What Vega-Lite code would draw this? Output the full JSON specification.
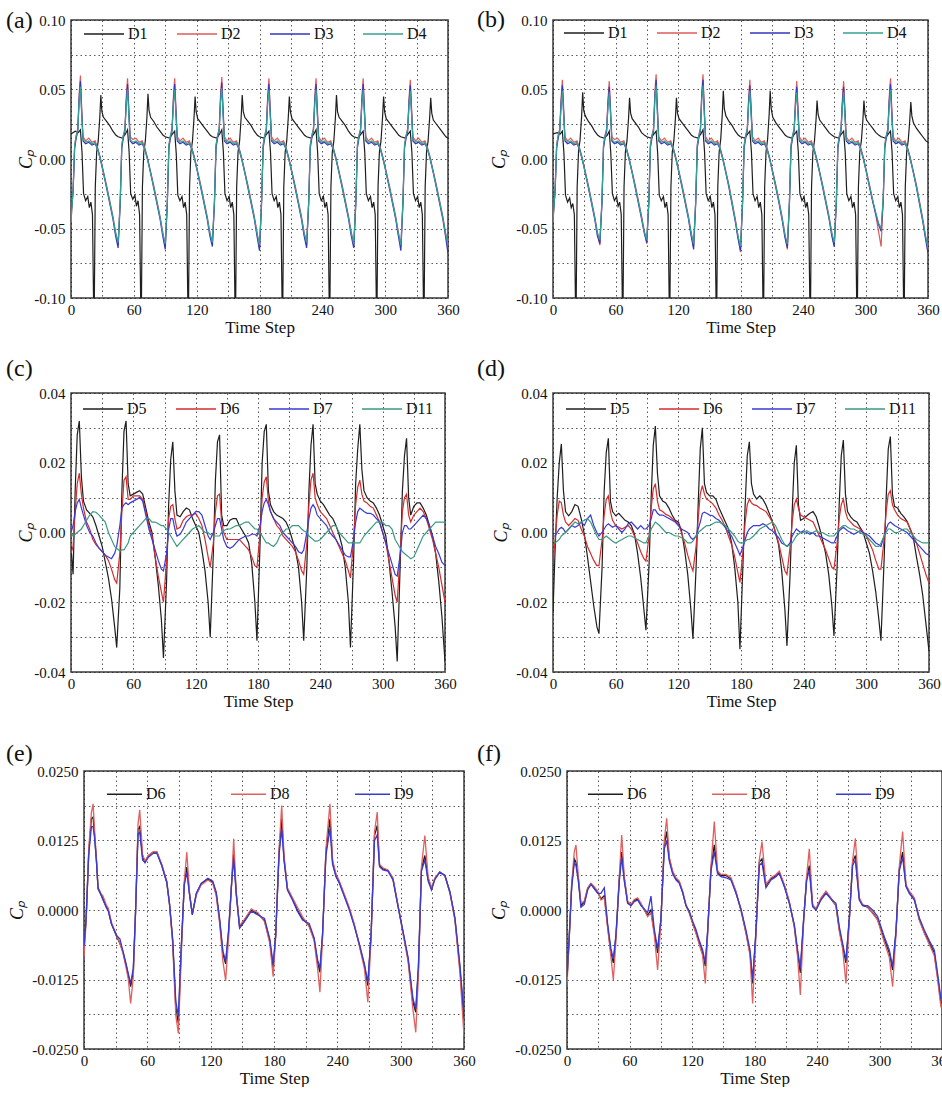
{
"$schema": "https://vega.github.io/schema/vega-lite/v6.json",
"padding": {"left": 4, "top": 7, "right": 0, "bottom": 0},
"datasets": {
"a": [
{"x":0,"D1":0.018},{"x":4,"D1":0.02},{"x":7,"D1":0.019},{"x":9,"D1":0.021},{"x":10.5,"D1":0.005},{"x":12,"D1":-0.025},{"x":14,"D1":-0.03},{"x":16,"D1":-0.027},{"x":17.5,"D1":-0.035},{"x":19,"D1":-0.031},{"x":20.5,"D1":-0.04},{"x":21.5,"D1":-0.1},{"x":22.3,"D1":-0.1},{"x":23.2,"D1":-0.02},{"x":24.5,"D1":0.005},{"x":26,"D1":0.013},{"x":27.5,"D1":0.03},{"x":28.5,"D1":0.046},{"x":29.5,"D1":0.034},{"x":31,"D1":0.03},{"x":34,"D1":0.027},{"x":37,"D1":0.024},{"x":40,"D1":0.02},{"x":43,"D1":0.017},
{"x":45,"D1":0.016},{"x":49,"D1":0.015},{"x":52,"D1":0.018},{"x":54,"D1":0.021},{"x":55.5,"D1":0.005},{"x":57,"D1":-0.025},{"x":59,"D1":-0.029},{"x":61,"D1":-0.026},{"x":62.5,"D1":-0.034},{"x":64,"D1":-0.03},{"x":65.5,"D1":-0.04},{"x":66.5,"D1":-0.1},{"x":67.3,"D1":-0.1},{"x":68.2,"D1":-0.02},{"x":69.5,"D1":0.005},{"x":71,"D1":0.013},{"x":72.5,"D1":0.03},{"x":73.5,"D1":0.047},{"x":74.5,"D1":0.035},{"x":76,"D1":0.03},{"x":79,"D1":0.027},{"x":82,"D1":0.023},{"x":85,"D1":0.02},{"x":88,"D1":0.017},
{"x":90,"D1":0.016},{"x":94,"D1":0.015},{"x":97,"D1":0.018},{"x":99,"D1":0.02},{"x":100.5,"D1":0.004},{"x":102,"D1":-0.026},{"x":104,"D1":-0.03},{"x":106,"D1":-0.027},{"x":107.5,"D1":-0.035},{"x":109,"D1":-0.031},{"x":110.5,"D1":-0.04},{"x":111.5,"D1":-0.1},{"x":112.3,"D1":-0.1},{"x":113.2,"D1":-0.02},{"x":114.5,"D1":0.005},{"x":116,"D1":0.013},{"x":117.5,"D1":0.03},{"x":118.5,"D1":0.045},{"x":119.5,"D1":0.034},{"x":121,"D1":0.029},{"x":124,"D1":0.026},{"x":127,"D1":0.023},{"x":130,"D1":0.02},{"x":133,"D1":0.017},
{"x":135,"D1":0.016},{"x":139,"D1":0.015},{"x":142,"D1":0.018},{"x":144,"D1":0.021},{"x":145.5,"D1":0.005},{"x":147,"D1":-0.025},{"x":149,"D1":-0.03},{"x":151,"D1":-0.027},{"x":152.5,"D1":-0.035},{"x":154,"D1":-0.031},{"x":155.5,"D1":-0.04},{"x":156.5,"D1":-0.1},{"x":157.3,"D1":-0.1},{"x":158.2,"D1":-0.02},{"x":159.5,"D1":0.005},{"x":161,"D1":0.013},{"x":162.5,"D1":0.03},{"x":163.5,"D1":0.046},{"x":164.5,"D1":0.034},{"x":166,"D1":0.03},{"x":169,"D1":0.027},{"x":172,"D1":0.024},{"x":175,"D1":0.02},{"x":178,"D1":0.017},
{"x":180,"D1":0.016},{"x":184,"D1":0.015},{"x":187,"D1":0.018},{"x":189,"D1":0.02},{"x":190.5,"D1":0.005},{"x":192,"D1":-0.025},{"x":194,"D1":-0.03},{"x":196,"D1":-0.027},{"x":197.5,"D1":-0.035},{"x":199,"D1":-0.031},{"x":200.5,"D1":-0.04},{"x":201.5,"D1":-0.1},{"x":202.3,"D1":-0.1},{"x":203.2,"D1":-0.02},{"x":204.5,"D1":0.005},{"x":206,"D1":0.013},{"x":207.5,"D1":0.03},{"x":208.5,"D1":0.045},{"x":209.5,"D1":0.034},{"x":211,"D1":0.029},{"x":214,"D1":0.026},{"x":217,"D1":0.023},{"x":220,"D1":0.02},{"x":223,"D1":0.017},
{"x":225,"D1":0.016},{"x":229,"D1":0.015},{"x":232,"D1":0.018},{"x":234,"D1":0.021},{"x":235.5,"D1":0.005},{"x":237,"D1":-0.025},{"x":239,"D1":-0.03},{"x":241,"D1":-0.027},{"x":242.5,"D1":-0.035},{"x":244,"D1":-0.031},{"x":245.5,"D1":-0.04},{"x":246.5,"D1":-0.1},{"x":247.3,"D1":-0.1},{"x":248.2,"D1":-0.02},{"x":249.5,"D1":0.005},{"x":251,"D1":0.013},{"x":252.5,"D1":0.03},{"x":253.5,"D1":0.046},{"x":254.5,"D1":0.034},{"x":256,"D1":0.03},{"x":259,"D1":0.027},{"x":262,"D1":0.024},{"x":265,"D1":0.02},{"x":268,"D1":0.017},
{"x":270,"D1":0.016},{"x":274,"D1":0.015},{"x":277,"D1":0.018},{"x":279,"D1":0.02},{"x":280.5,"D1":0.005},{"x":282,"D1":-0.025},{"x":284,"D1":-0.03},{"x":286,"D1":-0.027},{"x":287.5,"D1":-0.035},{"x":289,"D1":-0.031},{"x":290.5,"D1":-0.04},{"x":291.5,"D1":-0.1},{"x":292.3,"D1":-0.1},{"x":293.2,"D1":-0.02},{"x":294.5,"D1":0.005},{"x":296,"D1":0.013},{"x":297.5,"D1":0.03},{"x":298.5,"D1":0.045},{"x":299.5,"D1":0.034},{"x":301,"D1":0.029},{"x":304,"D1":0.026},{"x":307,"D1":0.023},{"x":310,"D1":0.02},{"x":313,"D1":0.017},
{"x":315,"D1":0.016},{"x":319,"D1":0.015},{"x":322,"D1":0.018},{"x":324,"D1":0.02},{"x":325.5,"D1":0.005},{"x":327,"D1":-0.025},{"x":329,"D1":-0.03},{"x":331,"D1":-0.027},{"x":332.5,"D1":-0.035},{"x":334,"D1":-0.031},{"x":335.5,"D1":-0.04},{"x":336.5,"D1":-0.1},{"x":337.3,"D1":-0.1},{"x":338.2,"D1":-0.02},{"x":339.5,"D1":0.005},{"x":341,"D1":0.013},{"x":342.5,"D1":0.03},{"x":343.5,"D1":0.044},{"x":344.5,"D1":0.033},{"x":346,"D1":0.028},{"x":349,"D1":0.025},{"x":352,"D1":0.022},{"x":355,"D1":0.019},{"x":358,"D1":0.016},{"x":360,"D1":0.015},
{"x":0,"D2":-0.045,"D3":-0.04,"D4":-0.045},{"x":2,"D2":-0.022,"D3":-0.024,"D4":-0.022},{"x":3.5,"D2":0.01,"D3":0.008,"D4":0.01},{"x":5,"D2":0.017,"D3":0.015,"D4":0.017},{"x":6.5,"D2":0.022,"D3":0.02,"D4":0.021},{"x":7.8,"D2":0.047,"D3":0.044,"D4":0.042},{"x":9,"D2":0.06,"D3":0.056,"D4":0.052},{"x":10.2,"D2":0.037,"D3":0.034,"D4":0.032},{"x":11.5,"D2":0.016,"D3":0.013,"D4":0.014},{"x":14,"D2":0.013,"D3":0.011,"D4":0.012},{"x":17,"D2":0.015,"D3":0.012,"D4":0.013},{"x":20,"D2":0.012,"D3":0.01,"D4":0.011},{"x":23,"D2":0.013,"D3":0.011,"D4":0.012},{"x":25.5,"D2":0.008,"D3":0.007,"D4":0.007},{"x":28,"D2":0.001,"D3":0,"D4":0},{"x":31,"D2":-0.009,"D3":-0.01,"D4":-0.01},{"x":34,"D2":-0.019,"D3":-0.021,"D4":-0.02},{"x":37,"D2":-0.03,"D3":-0.032,"D4":-0.031},{"x":40,"D2":-0.041,"D3":-0.043,"D4":-0.042},{"x":42.5,"D2":-0.052,"D3":-0.055,"D4":-0.053},
{"x":45,"D2":-0.062,"D3":-0.064,"D4":-0.06},{"x":47,"D2":-0.03,"D3":-0.032,"D4":-0.03},{"x":48.5,"D2":0.01,"D3":0.008,"D4":0.01},{"x":50,"D2":0.017,"D3":0.015,"D4":0.017},{"x":51.5,"D2":0.022,"D3":0.02,"D4":0.021},{"x":52.8,"D2":0.045,"D3":0.042,"D4":0.04},{"x":54,"D2":0.058,"D3":0.054,"D4":0.05},{"x":55.2,"D2":0.037,"D3":0.034,"D4":0.032},{"x":56.5,"D2":0.016,"D3":0.013,"D4":0.014},{"x":59,"D2":0.014,"D3":0.011,"D4":0.012},{"x":62,"D2":0.015,"D3":0.012,"D4":0.013},{"x":65,"D2":0.012,"D3":0.01,"D4":0.011},{"x":68,"D2":0.013,"D3":0.011,"D4":0.012},{"x":70.5,"D2":0.008,"D3":0.007,"D4":0.007},{"x":73,"D2":0.001,"D3":0,"D4":0},{"x":76,"D2":-0.009,"D3":-0.01,"D4":-0.01},{"x":79,"D2":-0.019,"D3":-0.021,"D4":-0.02},{"x":82,"D2":-0.03,"D3":-0.032,"D4":-0.031},{"x":85,"D2":-0.041,"D3":-0.043,"D4":-0.042},{"x":87.5,"D2":-0.052,"D3":-0.055,"D4":-0.053},
{"x":90,"D2":-0.063,"D3":-0.065,"D4":-0.061},{"x":92,"D2":-0.03,"D3":-0.032,"D4":-0.03},{"x":93.5,"D2":0.01,"D3":0.008,"D4":0.01},{"x":95,"D2":0.017,"D3":0.015,"D4":0.017},{"x":96.5,"D2":0.022,"D3":0.02,"D4":0.021},{"x":97.8,"D2":0.045,"D3":0.042,"D4":0.04},{"x":99,"D2":0.058,"D3":0.054,"D4":0.05},{"x":100.2,"D2":0.037,"D3":0.034,"D4":0.032},{"x":101.5,"D2":0.016,"D3":0.013,"D4":0.014},{"x":104,"D2":0.013,"D3":0.011,"D4":0.012},{"x":107,"D2":0.015,"D3":0.012,"D4":0.013},{"x":110,"D2":0.012,"D3":0.01,"D4":0.011},{"x":113,"D2":0.013,"D3":0.011,"D4":0.012},{"x":115.5,"D2":0.008,"D3":0.007,"D4":0.007},{"x":118,"D2":0.001,"D3":0,"D4":0},{"x":121,"D2":-0.009,"D3":-0.01,"D4":-0.01},{"x":124,"D2":-0.019,"D3":-0.021,"D4":-0.02},{"x":127,"D2":-0.03,"D3":-0.032,"D4":-0.031},{"x":130,"D2":-0.041,"D3":-0.043,"D4":-0.042},{"x":132.5,"D2":-0.052,"D3":-0.055,"D4":-0.053},
{"x":135,"D2":-0.061,"D3":-0.063,"D4":-0.06},{"x":137,"D2":-0.03,"D3":-0.032,"D4":-0.03},{"x":138.5,"D2":0.01,"D3":0.008,"D4":0.01},{"x":140,"D2":0.017,"D3":0.015,"D4":0.017},{"x":141.5,"D2":0.022,"D3":0.02,"D4":0.021},{"x":142.8,"D2":0.046,"D3":0.043,"D4":0.041},{"x":144,"D2":0.059,"D3":0.055,"D4":0.051},{"x":145.2,"D2":0.037,"D3":0.034,"D4":0.032},{"x":146.5,"D2":0.016,"D3":0.013,"D4":0.014},{"x":149,"D2":0.013,"D3":0.011,"D4":0.012},{"x":152,"D2":0.015,"D3":0.012,"D4":0.013},{"x":155,"D2":0.012,"D3":0.01,"D4":0.011},{"x":158,"D2":0.013,"D3":0.011,"D4":0.012},{"x":160.5,"D2":0.008,"D3":0.007,"D4":0.007},{"x":163,"D2":0.001,"D3":0,"D4":0},{"x":166,"D2":-0.009,"D3":-0.01,"D4":-0.01},{"x":169,"D2":-0.019,"D3":-0.021,"D4":-0.02},{"x":172,"D2":-0.03,"D3":-0.032,"D4":-0.031},{"x":175,"D2":-0.041,"D3":-0.043,"D4":-0.042},{"x":177.5,"D2":-0.052,"D3":-0.055,"D4":-0.053},
{"x":180,"D2":-0.064,"D3":-0.066,"D4":-0.062},{"x":182,"D2":-0.03,"D3":-0.032,"D4":-0.03},{"x":183.5,"D2":0.01,"D3":0.008,"D4":0.01},{"x":185,"D2":0.017,"D3":0.015,"D4":0.017},{"x":186.5,"D2":0.022,"D3":0.02,"D4":0.021},{"x":187.8,"D2":0.045,"D3":0.042,"D4":0.04},{"x":189,"D2":0.058,"D3":0.054,"D4":0.05},{"x":190.2,"D2":0.037,"D3":0.034,"D4":0.032},{"x":191.5,"D2":0.016,"D3":0.013,"D4":0.014},{"x":194,"D2":0.013,"D3":0.011,"D4":0.012},{"x":197,"D2":0.015,"D3":0.012,"D4":0.013},{"x":200,"D2":0.012,"D3":0.01,"D4":0.011},{"x":203,"D2":0.013,"D3":0.011,"D4":0.012},{"x":205.5,"D2":0.008,"D3":0.007,"D4":0.007},{"x":208,"D2":0.001,"D3":0,"D4":0},{"x":211,"D2":-0.009,"D3":-0.01,"D4":-0.01},{"x":214,"D2":-0.019,"D3":-0.021,"D4":-0.02},{"x":217,"D2":-0.03,"D3":-0.032,"D4":-0.031},{"x":220,"D2":-0.041,"D3":-0.043,"D4":-0.042},{"x":222.5,"D2":-0.052,"D3":-0.055,"D4":-0.053},
{"x":225,"D2":-0.062,"D3":-0.064,"D4":-0.06},{"x":227,"D2":-0.03,"D3":-0.032,"D4":-0.03},{"x":228.5,"D2":0.01,"D3":0.008,"D4":0.01},{"x":230,"D2":0.017,"D3":0.015,"D4":0.017},{"x":231.5,"D2":0.022,"D3":0.02,"D4":0.021},{"x":232.8,"D2":0.045,"D3":0.042,"D4":0.04},{"x":234,"D2":0.058,"D3":0.054,"D4":0.05},{"x":235.2,"D2":0.037,"D3":0.034,"D4":0.032},{"x":236.5,"D2":0.016,"D3":0.013,"D4":0.014},{"x":239,"D2":0.013,"D3":0.011,"D4":0.012},{"x":242,"D2":0.015,"D3":0.012,"D4":0.013},{"x":245,"D2":0.012,"D3":0.01,"D4":0.011},{"x":248,"D2":0.013,"D3":0.011,"D4":0.012},{"x":250.5,"D2":0.008,"D3":0.007,"D4":0.007},{"x":253,"D2":0.001,"D3":0,"D4":0},{"x":256,"D2":-0.009,"D3":-0.01,"D4":-0.01},{"x":259,"D2":-0.019,"D3":-0.021,"D4":-0.02},{"x":262,"D2":-0.03,"D3":-0.032,"D4":-0.031},{"x":265,"D2":-0.041,"D3":-0.043,"D4":-0.042},{"x":267.5,"D2":-0.052,"D3":-0.055,"D4":-0.053},
{"x":270,"D2":-0.062,"D3":-0.064,"D4":-0.061},{"x":272,"D2":-0.03,"D3":-0.032,"D4":-0.03},{"x":273.5,"D2":0.01,"D3":0.008,"D4":0.01},{"x":275,"D2":0.017,"D3":0.015,"D4":0.017},{"x":276.5,"D2":0.022,"D3":0.02,"D4":0.021},{"x":277.8,"D2":0.045,"D3":0.042,"D4":0.04},{"x":279,"D2":0.058,"D3":0.054,"D4":0.05},{"x":280.2,"D2":0.037,"D3":0.034,"D4":0.032},{"x":281.5,"D2":0.016,"D3":0.013,"D4":0.014},{"x":284,"D2":0.013,"D3":0.011,"D4":0.012},{"x":287,"D2":0.015,"D3":0.012,"D4":0.013},{"x":290,"D2":0.012,"D3":0.01,"D4":0.011},{"x":293,"D2":0.013,"D3":0.011,"D4":0.012},{"x":295.5,"D2":0.008,"D3":0.007,"D4":0.007},{"x":298,"D2":0.001,"D3":0,"D4":0},{"x":301,"D2":-0.009,"D3":-0.01,"D4":-0.01},{"x":304,"D2":-0.019,"D3":-0.021,"D4":-0.02},{"x":307,"D2":-0.03,"D3":-0.032,"D4":-0.031},{"x":310,"D2":-0.041,"D3":-0.043,"D4":-0.042},{"x":312.5,"D2":-0.052,"D3":-0.055,"D4":-0.053},
{"x":315,"D2":-0.063,"D3":-0.066,"D4":-0.062},{"x":317,"D2":-0.03,"D3":-0.032,"D4":-0.03},{"x":318.5,"D2":0.01,"D3":0.008,"D4":0.01},{"x":320,"D2":0.017,"D3":0.015,"D4":0.017},{"x":321.5,"D2":0.022,"D3":0.02,"D4":0.021},{"x":322.8,"D2":0.044,"D3":0.041,"D4":0.039},{"x":324,"D2":0.057,"D3":0.053,"D4":0.049},{"x":325.2,"D2":0.037,"D3":0.034,"D4":0.032},{"x":326.5,"D2":0.016,"D3":0.013,"D4":0.014},{"x":329,"D2":0.013,"D3":0.011,"D4":0.012},{"x":332,"D2":0.015,"D3":0.012,"D4":0.013},{"x":335,"D2":0.012,"D3":0.01,"D4":0.011},{"x":338,"D2":0.013,"D3":0.011,"D4":0.012},{"x":340.5,"D2":0.008,"D3":0.007,"D4":0.007},{"x":343,"D2":0.001,"D3":0,"D4":0},{"x":346,"D2":-0.009,"D3":-0.01,"D4":-0.01},{"x":349,"D2":-0.019,"D3":-0.021,"D4":-0.02},{"x":352,"D2":-0.03,"D3":-0.032,"D4":-0.031},{"x":355,"D2":-0.041,"D3":-0.043,"D4":-0.042},{"x":357.5,"D2":-0.052,"D3":-0.055,"D4":-0.053},{"x":360,"D2":-0.064,"D3":-0.068,"D4":-0.062}
],
"b": [
{"x":0,"D1":0.018},{"x":4,"D1":0.019},{"x":7,"D1":0.018},{"x":9,"D1":0.02},{"x":10.5,"D1":0.004},{"x":12,"D1":-0.026},{"x":14,"D1":-0.031},{"x":16,"D1":-0.028},{"x":17.5,"D1":-0.035},{"x":19,"D1":-0.032},{"x":20.5,"D1":-0.04},{"x":21.5,"D1":-0.1},{"x":22.3,"D1":-0.1},{"x":23.2,"D1":-0.02},{"x":24.5,"D1":0.005},{"x":26,"D1":0.014},{"x":27.5,"D1":0.031},{"x":28.5,"D1":0.048},{"x":29.5,"D1":0.035},{"x":31,"D1":0.031},{"x":34,"D1":0.027},{"x":37,"D1":0.024},{"x":40,"D1":0.02},{"x":43,"D1":0.017},
{"x":45,"D1":0.016},{"x":49,"D1":0.015},{"x":52,"D1":0.017},{"x":54,"D1":0.02},{"x":55.5,"D1":0.004},{"x":57,"D1":-0.025},{"x":59,"D1":-0.03},{"x":61,"D1":-0.027},{"x":62.5,"D1":-0.034},{"x":64,"D1":-0.031},{"x":65.5,"D1":-0.04},{"x":66.5,"D1":-0.1},{"x":67.3,"D1":-0.1},{"x":68.2,"D1":-0.02},{"x":69.5,"D1":0.005},{"x":71,"D1":0.013},{"x":72.5,"D1":0.029},{"x":73.5,"D1":0.044},{"x":74.5,"D1":0.033},{"x":76,"D1":0.029},{"x":79,"D1":0.026},{"x":82,"D1":0.023},{"x":85,"D1":0.019},{"x":88,"D1":0.017},
{"x":90,"D1":0.016},{"x":94,"D1":0.015},{"x":97,"D1":0.018},{"x":99,"D1":0.02},{"x":100.5,"D1":0.004},{"x":102,"D1":-0.026},{"x":104,"D1":-0.03},{"x":106,"D1":-0.027},{"x":107.5,"D1":-0.035},{"x":109,"D1":-0.031},{"x":110.5,"D1":-0.04},{"x":111.5,"D1":-0.1},{"x":112.3,"D1":-0.1},{"x":113.2,"D1":-0.02},{"x":114.5,"D1":0.005},{"x":116,"D1":0.013},{"x":117.5,"D1":0.029},{"x":118.5,"D1":0.044},{"x":119.5,"D1":0.033},{"x":121,"D1":0.029},{"x":124,"D1":0.026},{"x":127,"D1":0.023},{"x":130,"D1":0.02},{"x":133,"D1":0.017},
{"x":135,"D1":0.016},{"x":139,"D1":0.015},{"x":142,"D1":0.018},{"x":144,"D1":0.021},{"x":145.5,"D1":0.005},{"x":147,"D1":-0.025},{"x":149,"D1":-0.03},{"x":151,"D1":-0.027},{"x":152.5,"D1":-0.035},{"x":154,"D1":-0.031},{"x":155.5,"D1":-0.04},{"x":156.5,"D1":-0.1},{"x":157.3,"D1":-0.1},{"x":158.2,"D1":-0.02},{"x":159.5,"D1":0.005},{"x":161,"D1":0.014},{"x":162.5,"D1":0.032},{"x":163.5,"D1":0.049},{"x":164.5,"D1":0.036},{"x":166,"D1":0.031},{"x":169,"D1":0.027},{"x":172,"D1":0.024},{"x":175,"D1":0.02},{"x":178,"D1":0.017},
{"x":180,"D1":0.016},{"x":184,"D1":0.015},{"x":187,"D1":0.018},{"x":189,"D1":0.02},{"x":190.5,"D1":0.005},{"x":192,"D1":-0.025},{"x":194,"D1":-0.03},{"x":196,"D1":-0.027},{"x":197.5,"D1":-0.035},{"x":199,"D1":-0.031},{"x":200.5,"D1":-0.04},{"x":201.5,"D1":-0.1},{"x":202.3,"D1":-0.1},{"x":203.2,"D1":-0.02},{"x":204.5,"D1":0.005},{"x":206,"D1":0.014},{"x":207.5,"D1":0.032},{"x":208.5,"D1":0.049},{"x":209.5,"D1":0.036},{"x":211,"D1":0.03},{"x":214,"D1":0.026},{"x":217,"D1":0.023},{"x":220,"D1":0.02},{"x":223,"D1":0.017},
{"x":225,"D1":0.016},{"x":229,"D1":0.015},{"x":232,"D1":0.018},{"x":234,"D1":0.02},{"x":235.5,"D1":0.005},{"x":237,"D1":-0.025},{"x":239,"D1":-0.03},{"x":241,"D1":-0.027},{"x":242.5,"D1":-0.035},{"x":244,"D1":-0.031},{"x":245.5,"D1":-0.04},{"x":246.5,"D1":-0.1},{"x":247.3,"D1":-0.1},{"x":248.2,"D1":-0.02},{"x":249.5,"D1":0.005},{"x":251,"D1":0.013},{"x":252.5,"D1":0.028},{"x":253.5,"D1":0.042},{"x":254.5,"D1":0.032},{"x":256,"D1":0.028},{"x":259,"D1":0.025},{"x":262,"D1":0.022},{"x":265,"D1":0.019},{"x":268,"D1":0.017},
{"x":270,"D1":0.016},{"x":274,"D1":0.015},{"x":277,"D1":0.018},{"x":279,"D1":0.02},{"x":280.5,"D1":0.005},{"x":282,"D1":-0.025},{"x":284,"D1":-0.03},{"x":286,"D1":-0.027},{"x":287.5,"D1":-0.035},{"x":289,"D1":-0.031},{"x":290.5,"D1":-0.04},{"x":291.5,"D1":-0.1},{"x":292.3,"D1":-0.1},{"x":293.2,"D1":-0.02},{"x":294.5,"D1":0.005},{"x":296,"D1":0.013},{"x":297.5,"D1":0.028},{"x":298.5,"D1":0.042},{"x":299.5,"D1":0.032},{"x":301,"D1":0.028},{"x":304,"D1":0.025},{"x":307,"D1":0.022},{"x":310,"D1":0.019},{"x":313,"D1":0.017},
{"x":315,"D1":0.016},{"x":319,"D1":0.015},{"x":322,"D1":0.018},{"x":324,"D1":0.02},{"x":325.5,"D1":0.005},{"x":327,"D1":-0.025},{"x":329,"D1":-0.03},{"x":331,"D1":-0.027},{"x":332.5,"D1":-0.035},{"x":334,"D1":-0.031},{"x":335.5,"D1":-0.04},{"x":336.5,"D1":-0.1},{"x":337.3,"D1":-0.1},{"x":338.2,"D1":-0.02},{"x":339.5,"D1":0.005},{"x":341,"D1":0.013},{"x":342.5,"D1":0.028},{"x":343.5,"D1":0.041},{"x":344.5,"D1":0.031},{"x":346,"D1":0.026},{"x":349,"D1":0.022},{"x":352,"D1":0.019},{"x":355,"D1":0.016},{"x":358,"D1":0.013},{"x":360,"D1":0.012},
{"x":0,"D2":-0.045,"D3":-0.042,"D4":-0.045},{"x":2,"D2":-0.022,"D3":-0.024,"D4":-0.022},{"x":3.5,"D2":0.01,"D3":0.008,"D4":0.01},{"x":5,"D2":0.017,"D3":0.015,"D4":0.017},{"x":6.5,"D2":0.022,"D3":0.02,"D4":0.021},{"x":7.8,"D2":0.044,"D3":0.041,"D4":0.039},{"x":9,"D2":0.057,"D3":0.053,"D4":0.049},{"x":10.2,"D2":0.037,"D3":0.034,"D4":0.032},{"x":11.5,"D2":0.016,"D3":0.013,"D4":0.014},{"x":14,"D2":0.013,"D3":0.011,"D4":0.012},{"x":17,"D2":0.015,"D3":0.012,"D4":0.013},{"x":20,"D2":0.012,"D3":0.01,"D4":0.011},{"x":23,"D2":0.013,"D3":0.011,"D4":0.012},{"x":25.5,"D2":0.008,"D3":0.007,"D4":0.007},{"x":28,"D2":0.001,"D3":0,"D4":0},{"x":31,"D2":-0.009,"D3":-0.01,"D4":-0.01},{"x":34,"D2":-0.019,"D3":-0.021,"D4":-0.02},{"x":37,"D2":-0.03,"D3":-0.032,"D4":-0.031},{"x":40,"D2":-0.041,"D3":-0.043,"D4":-0.042},{"x":42.5,"D2":-0.052,"D3":-0.055,"D4":-0.053},
{"x":45,"D2":-0.062,"D3":-0.061,"D4":-0.058},{"x":47,"D2":-0.03,"D3":-0.032,"D4":-0.03},{"x":48.5,"D2":0.01,"D3":0.008,"D4":0.01},{"x":50,"D2":0.017,"D3":0.015,"D4":0.017},{"x":51.5,"D2":0.022,"D3":0.02,"D4":0.021},{"x":52.8,"D2":0.043,"D3":0.04,"D4":0.038},{"x":54,"D2":0.056,"D3":0.052,"D4":0.048},{"x":55.2,"D2":0.037,"D3":0.034,"D4":0.032},{"x":56.5,"D2":0.016,"D3":0.013,"D4":0.014},{"x":59,"D2":0.014,"D3":0.011,"D4":0.012},{"x":62,"D2":0.015,"D3":0.012,"D4":0.013},{"x":65,"D2":0.012,"D3":0.01,"D4":0.011},{"x":68,"D2":0.013,"D3":0.011,"D4":0.012},{"x":70.5,"D2":0.008,"D3":0.007,"D4":0.007},{"x":73,"D2":0.001,"D3":0,"D4":0},{"x":76,"D2":-0.009,"D3":-0.01,"D4":-0.01},{"x":79,"D2":-0.019,"D3":-0.021,"D4":-0.02},{"x":82,"D2":-0.03,"D3":-0.032,"D4":-0.031},{"x":85,"D2":-0.041,"D3":-0.043,"D4":-0.042},{"x":87.5,"D2":-0.051,"D3":-0.053,"D4":-0.052},
{"x":90,"D2":-0.061,"D3":-0.06,"D4":-0.058},{"x":92,"D2":-0.03,"D3":-0.032,"D4":-0.03},{"x":93.5,"D2":0.01,"D3":0.008,"D4":0.01},{"x":95,"D2":0.017,"D3":0.015,"D4":0.017},{"x":96.5,"D2":0.022,"D3":0.02,"D4":0.021},{"x":97.8,"D2":0.048,"D3":0.045,"D4":0.043},{"x":99,"D2":0.061,"D3":0.057,"D4":0.053},{"x":100.2,"D2":0.038,"D3":0.035,"D4":0.033},{"x":101.5,"D2":0.016,"D3":0.013,"D4":0.014},{"x":104,"D2":0.013,"D3":0.011,"D4":0.012},{"x":107,"D2":0.015,"D3":0.012,"D4":0.013},{"x":110,"D2":0.012,"D3":0.01,"D4":0.011},{"x":113,"D2":0.013,"D3":0.011,"D4":0.012},{"x":115.5,"D2":0.008,"D3":0.007,"D4":0.007},{"x":118,"D2":0.001,"D3":0,"D4":0},{"x":121,"D2":-0.009,"D3":-0.01,"D4":-0.01},{"x":124,"D2":-0.019,"D3":-0.021,"D4":-0.02},{"x":127,"D2":-0.03,"D3":-0.032,"D4":-0.031},{"x":130,"D2":-0.041,"D3":-0.043,"D4":-0.042},{"x":132.5,"D2":-0.052,"D3":-0.055,"D4":-0.053},
{"x":135,"D2":-0.063,"D3":-0.065,"D4":-0.061},{"x":137,"D2":-0.03,"D3":-0.032,"D4":-0.03},{"x":138.5,"D2":0.01,"D3":0.008,"D4":0.01},{"x":140,"D2":0.017,"D3":0.015,"D4":0.017},{"x":141.5,"D2":0.022,"D3":0.02,"D4":0.021},{"x":142.8,"D2":0.048,"D3":0.045,"D4":0.043},{"x":144,"D2":0.061,"D3":0.057,"D4":0.053},{"x":145.2,"D2":0.038,"D3":0.035,"D4":0.033},{"x":146.5,"D2":0.016,"D3":0.013,"D4":0.014},{"x":149,"D2":0.013,"D3":0.011,"D4":0.012},{"x":152,"D2":0.015,"D3":0.012,"D4":0.013},{"x":155,"D2":0.012,"D3":0.01,"D4":0.011},{"x":158,"D2":0.013,"D3":0.011,"D4":0.012},{"x":160.5,"D2":0.008,"D3":0.007,"D4":0.007},{"x":163,"D2":0.001,"D3":0,"D4":0},{"x":166,"D2":-0.009,"D3":-0.01,"D4":-0.01},{"x":169,"D2":-0.019,"D3":-0.021,"D4":-0.02},{"x":172,"D2":-0.031,"D3":-0.033,"D4":-0.032},{"x":175,"D2":-0.043,"D3":-0.045,"D4":-0.044},{"x":177.5,"D2":-0.055,"D3":-0.057,"D4":-0.055},
{"x":180,"D2":-0.067,"D3":-0.066,"D4":-0.063},{"x":182,"D2":-0.03,"D3":-0.032,"D4":-0.03},{"x":183.5,"D2":0.01,"D3":0.008,"D4":0.01},{"x":185,"D2":0.017,"D3":0.015,"D4":0.017},{"x":186.5,"D2":0.022,"D3":0.02,"D4":0.021},{"x":187.8,"D2":0.044,"D3":0.041,"D4":0.039},{"x":189,"D2":0.057,"D3":0.053,"D4":0.049},{"x":190.2,"D2":0.037,"D3":0.034,"D4":0.032},{"x":191.5,"D2":0.016,"D3":0.013,"D4":0.014},{"x":194,"D2":0.013,"D3":0.011,"D4":0.012},{"x":197,"D2":0.015,"D3":0.012,"D4":0.013},{"x":200,"D2":0.012,"D3":0.01,"D4":0.011},{"x":203,"D2":0.013,"D3":0.011,"D4":0.012},{"x":205.5,"D2":0.008,"D3":0.007,"D4":0.007},{"x":208,"D2":0.001,"D3":0,"D4":0},{"x":211,"D2":-0.009,"D3":-0.01,"D4":-0.01},{"x":214,"D2":-0.019,"D3":-0.021,"D4":-0.02},{"x":217,"D2":-0.03,"D3":-0.032,"D4":-0.031},{"x":220,"D2":-0.042,"D3":-0.044,"D4":-0.043},{"x":222.5,"D2":-0.053,"D3":-0.056,"D4":-0.054},
{"x":225,"D2":-0.065,"D3":-0.064,"D4":-0.061},{"x":227,"D2":-0.03,"D3":-0.032,"D4":-0.03},{"x":228.5,"D2":0.01,"D3":0.008,"D4":0.01},{"x":230,"D2":0.017,"D3":0.015,"D4":0.017},{"x":231.5,"D2":0.022,"D3":0.02,"D4":0.021},{"x":232.8,"D2":0.043,"D3":0.04,"D4":0.038},{"x":234,"D2":0.056,"D3":0.052,"D4":0.048},{"x":235.2,"D2":0.037,"D3":0.034,"D4":0.032},{"x":236.5,"D2":0.016,"D3":0.013,"D4":0.014},{"x":239,"D2":0.013,"D3":0.011,"D4":0.012},{"x":242,"D2":0.015,"D3":0.012,"D4":0.013},{"x":245,"D2":0.012,"D3":0.01,"D4":0.011},{"x":248,"D2":0.013,"D3":0.011,"D4":0.012},{"x":250.5,"D2":0.008,"D3":0.007,"D4":0.007},{"x":253,"D2":0.001,"D3":0,"D4":0},{"x":256,"D2":-0.009,"D3":-0.01,"D4":-0.01},{"x":259,"D2":-0.019,"D3":-0.021,"D4":-0.02},{"x":262,"D2":-0.03,"D3":-0.032,"D4":-0.031},{"x":265,"D2":-0.041,"D3":-0.043,"D4":-0.042},{"x":267.5,"D2":-0.052,"D3":-0.055,"D4":-0.053},
{"x":270,"D2":-0.063,"D3":-0.063,"D4":-0.06},{"x":272,"D2":-0.03,"D3":-0.032,"D4":-0.03},{"x":273.5,"D2":0.01,"D3":0.008,"D4":0.01},{"x":275,"D2":0.017,"D3":0.015,"D4":0.017},{"x":276.5,"D2":0.022,"D3":0.02,"D4":0.021},{"x":277.8,"D2":0.043,"D3":0.04,"D4":0.038},{"x":279,"D2":0.056,"D3":0.052,"D4":0.048},{"x":280.2,"D2":0.037,"D3":0.034,"D4":0.032},{"x":281.5,"D2":0.016,"D3":0.013,"D4":0.014},{"x":284,"D2":0.013,"D3":0.011,"D4":0.012},{"x":287,"D2":0.015,"D3":0.012,"D4":0.013},{"x":290,"D2":0.012,"D3":0.01,"D4":0.011},{"x":293,"D2":0.013,"D3":0.011,"D4":0.012},{"x":295.5,"D2":0.008,"D3":0.007,"D4":0.007},{"x":298,"D2":0.001,"D3":0,"D4":0},{"x":301,"D2":-0.009,"D3":-0.01,"D4":-0.01},{"x":304,"D2":-0.019,"D3":-0.021,"D4":-0.02},{"x":307,"D2":-0.03,"D3":-0.031,"D4":-0.03},{"x":310,"D2":-0.041,"D3":-0.04,"D4":-0.039},{"x":312.5,"D2":-0.052,"D3":-0.047,"D4":-0.046},
{"x":315,"D2":-0.063,"D3":-0.052,"D4":-0.05},{"x":317,"D2":-0.03,"D3":-0.03,"D4":-0.028},{"x":318.5,"D2":0.01,"D3":0.008,"D4":0.01},{"x":320,"D2":0.017,"D3":0.015,"D4":0.017},{"x":321.5,"D2":0.022,"D3":0.02,"D4":0.021},{"x":322.8,"D2":0.045,"D3":0.042,"D4":0.04},{"x":324,"D2":0.058,"D3":0.054,"D4":0.05},{"x":325.2,"D2":0.037,"D3":0.034,"D4":0.032},{"x":326.5,"D2":0.016,"D3":0.013,"D4":0.014},{"x":329,"D2":0.013,"D3":0.011,"D4":0.012},{"x":332,"D2":0.015,"D3":0.012,"D4":0.013},{"x":335,"D2":0.012,"D3":0.01,"D4":0.011},{"x":338,"D2":0.013,"D3":0.011,"D4":0.012},{"x":340.5,"D2":0.008,"D3":0.007,"D4":0.007},{"x":343,"D2":0.001,"D3":0,"D4":0},{"x":346,"D2":-0.009,"D3":-0.01,"D4":-0.01},{"x":349,"D2":-0.019,"D3":-0.021,"D4":-0.02},{"x":352,"D2":-0.031,"D3":-0.033,"D4":-0.032},{"x":355,"D2":-0.043,"D3":-0.045,"D4":-0.044},{"x":357.5,"D2":-0.055,"D3":-0.057,"D4":-0.055},{"x":360,"D2":-0.066,"D3":-0.068,"D4":-0.064}
],
"c": [
{"x":0,"D5":-0.004,"D6":-0.006,"D7":0,"D11":0},{"x":2,"D5":-0.012,"D6":-0.004,"D7":0.002,"D11":-0.001},{"x":4,"D5":0.012,"D6":0.006,"D7":0.006,"D11":-0.0005},{"x":6,"D5":0.028,"D6":0.014,"D7":0.0085,"D11":0},{"x":8,"D5":0.032,"D6":0.017,"D7":0.0095,"D11":0.0005},{"x":10,"D5":0.016,"D6":0.011,"D7":0.007,"D11":0.001},{"x":12,"D5":0.009,"D6":0.007,"D7":0.005,"D11":0.002},{"x":15,"D5":0.0065,"D6":0.003,"D7":0.002,"D11":0.0035},{"x":18,"D5":0.0055,"D6":0.001,"D7":0,"D11":0.005},{"x":21,"D5":0.0045,"D6":-0.002,"D7":-0.001,"D11":0.006},{"x":24,"D5":0.002,"D6":-0.0035,"D7":-0.003,"D11":0.0058},{"x":27,"D5":-0.001,"D6":-0.0045,"D7":-0.0045,"D11":0.005},{"x":30,"D5":-0.004,"D6":-0.0055,"D7":-0.0055,"D11":0.004},{"x":33,"D5":-0.0085,"D6":-0.0065,"D7":-0.0065,"D11":0.003},{"x":36,"D5":-0.013,"D6":-0.008,"D7":-0.007,"D11":0},{"x":39,"D5":-0.019,"D6":-0.0105,"D7":-0.0075,"D11":-0.002},{"x":42,"D5":-0.027,"D6":-0.0135,"D7":-0.006,"D11":-0.004},
{"x":44,"D5":-0.033,"D6":-0.0145,"D7":-0.004,"D11":-0.0045},{"x":47,"D5":-0.016,"D6":-0.006,"D7":0.002,"D11":-0.0053},{"x":49,"D5":0.012,"D6":0.006,"D7":0.007,"D11":-0.005},{"x":51,"D5":0.029,"D6":0.015,"D7":0.008,"D11":-0.005},{"x":53,"D5":0.032,"D6":0.016,"D7":0.0085,"D11":-0.004},{"x":55,"D5":0.014,"D6":0.0095,"D7":0.008,"D11":-0.003},{"x":57,"D5":0.0105,"D6":0.0095,"D7":0.0085,"D11":-0.001},{"x":60,"D5":0.011,"D6":0.0105,"D7":0.009,"D11":0},{"x":63,"D5":0.0115,"D6":0.0105,"D7":0.0095,"D11":0.001},{"x":66,"D5":0.012,"D6":0.0105,"D7":0.01,"D11":0.002},{"x":69,"D5":0.011,"D6":0.0095,"D7":0.009,"D11":0.003},{"x":72,"D5":0.007,"D6":0.006,"D7":0.005,"D11":0.004},{"x":75,"D5":0.003,"D6":0.002,"D7":0.001,"D11":0.004},{"x":78,"D5":0,"D6":-0.001,"D7":-0.002,"D11":0.003},{"x":81,"D5":-0.007,"D6":-0.007,"D7":-0.005,"D11":0.003},{"x":84,"D5":-0.015,"D6":-0.0125,"D7":-0.008,"D11":0.0025},{"x":87,"D5":-0.025,"D6":-0.017,"D7":-0.0105,"D11":0.002},
{"x":89,"D5":-0.036,"D6":-0.02,"D7":-0.011,"D11":0.002},{"x":92,"D5":-0.014,"D6":-0.008,"D7":-0.006,"D11":0.001},{"x":94,"D5":0.008,"D6":0.004,"D7":0.001,"D11":0},{"x":96,"D5":0.021,"D6":0.0075,"D7":0.004,"D11":-0.001},{"x":98,"D5":0.026,"D6":0.008,"D7":0.004,"D11":-0.002},{"x":100,"D5":0.012,"D6":0.004,"D7":0.001,"D11":-0.003},{"x":102,"D5":0.005,"D6":0.001,"D7":-0.001,"D11":-0.004},{"x":105,"D5":0.0045,"D6":0.0015,"D7":-0.0005,"D11":-0.003},{"x":108,"D5":0.006,"D6":0.0035,"D7":0.001,"D11":-0.002},{"x":111,"D5":0.007,"D6":0.0045,"D7":0.003,"D11":-0.001},{"x":114,"D5":0.0065,"D6":0.005,"D7":0.004,"D11":0},{"x":117,"D5":0.004,"D6":0.005,"D7":0.005,"D11":0.001},{"x":120,"D5":0.002,"D6":0.0055,"D7":0.006,"D11":0.0015},{"x":123,"D5":0,"D6":0.004,"D7":0.006,"D11":0.002},{"x":126,"D5":-0.005,"D6":0.002,"D7":0.005,"D11":0.001},{"x":129,"D5":-0.011,"D6":-0.002,"D7":0.002,"D11":0},{"x":132,"D5":-0.02,"D6":-0.007,"D7":-0.001,"D11":0},
{"x":134,"D5":-0.03,"D6":-0.01,"D7":-0.002,"D11":-0.0005},{"x":137,"D5":-0.006,"D6":-0.003,"D7":0,"D11":-0.001},{"x":139,"D5":0.015,"D6":0.006,"D7":0.002,"D11":-0.001},{"x":141,"D5":0.026,"D6":0.0105,"D7":0.004,"D11":-0.001},{"x":143,"D5":0.028,"D6":0.011,"D7":0.004,"D11":-0.001},{"x":145,"D5":0.005,"D6":0.003,"D7":0.001,"D11":0},{"x":147,"D5":0.002,"D6":0,"D7":-0.002,"D11":0.0005},{"x":150,"D5":0.002,"D6":-0.002,"D7":-0.004,"D11":0.001},{"x":153,"D5":0.0035,"D6":-0.002,"D7":-0.0045,"D11":0.001},{"x":156,"D5":0.004,"D6":-0.002,"D7":-0.004,"D11":0.0015},{"x":159,"D5":0.004,"D6":-0.002,"D7":-0.003,"D11":0.002},{"x":162,"D5":0.002,"D6":-0.002,"D7":-0.002,"D11":0.002},{"x":165,"D5":0.0005,"D6":-0.003,"D7":-0.0015,"D11":0.0025},{"x":168,"D5":-0.001,"D6":-0.004,"D7":-0.001,"D11":0.003},{"x":171,"D5":-0.003,"D6":-0.005,"D7":-0.001,"D11":0.003},{"x":174,"D5":-0.009,"D6":-0.007,"D7":-0.0005,"D11":0.002},{"x":177,"D5":-0.02,"D6":-0.0095,"D7":-0.0005,"D11":0.001},
{"x":179,"D5":-0.031,"D6":-0.01,"D7":-0.001,"D11":0.001},{"x":182,"D5":-0.003,"D6":0,"D7":0.002,"D11":0},{"x":184,"D5":0.02,"D6":0.01,"D7":0.006,"D11":-0.001},{"x":186,"D5":0.029,"D6":0.0145,"D7":0.0085,"D11":-0.002},{"x":188,"D5":0.031,"D6":0.016,"D7":0.0095,"D11":-0.003},{"x":190,"D5":0.012,"D6":0.009,"D7":0.008,"D11":-0.003},{"x":192,"D5":0.008,"D6":0.006,"D7":0.006,"D11":-0.0035},{"x":195,"D5":0.006,"D6":0.004,"D7":0.004,"D11":-0.004},{"x":198,"D5":0.005,"D6":0.002,"D7":0.003,"D11":-0.003},{"x":201,"D5":0.0045,"D6":0.001,"D7":0.002,"D11":-0.001},{"x":204,"D5":0.004,"D6":-0.001,"D7":0,"D11":0},{"x":207,"D5":0.003,"D6":-0.002,"D7":-0.001,"D11":0.001},{"x":210,"D5":0.001,"D6":-0.003,"D7":-0.002,"D11":0.001},{"x":213,"D5":-0.002,"D6":-0.004,"D7":-0.003,"D11":0.002},{"x":216,"D5":-0.005,"D6":-0.0055,"D7":-0.004,"D11":0.002},{"x":219,"D5":-0.01,"D6":-0.008,"D7":-0.0055,"D11":0.002},{"x":222,"D5":-0.02,"D6":-0.011,"D7":-0.006,"D11":0.001},
{"x":224,"D5":-0.031,"D6":-0.012,"D7":-0.005,"D11":0.0005},{"x":227,"D5":-0.01,"D6":-0.003,"D7":0,"D11":0},{"x":229,"D5":0.012,"D6":0.008,"D7":0.004,"D11":-0.001},{"x":231,"D5":0.025,"D6":0.015,"D7":0.007,"D11":-0.0015},{"x":233,"D5":0.031,"D6":0.017,"D7":0.008,"D11":-0.002},{"x":235,"D5":0.014,"D6":0.01,"D7":0.007,"D11":-0.0025},{"x":237,"D5":0.011,"D6":0.008,"D7":0.005,"D11":-0.0025},{"x":240,"D5":0.009,"D6":0.006,"D7":0.004,"D11":-0.002},{"x":243,"D5":0.008,"D6":0.005,"D7":0.003,"D11":-0.001},{"x":246,"D5":0.0065,"D6":0.004,"D7":0.002,"D11":0},{"x":249,"D5":0.005,"D6":0.002,"D7":0,"D11":0.001},{"x":252,"D5":0.004,"D6":0,"D7":-0.001,"D11":0.002},{"x":255,"D5":0.002,"D6":-0.002,"D7":-0.002,"D11":0.002},{"x":258,"D5":-0.0005,"D6":-0.004,"D7":-0.0035,"D11":0},{"x":261,"D5":-0.004,"D6":-0.006,"D7":-0.005,"D11":-0.001},{"x":264,"D5":-0.01,"D6":-0.008,"D7":-0.0065,"D11":-0.002},{"x":267,"D5":-0.02,"D6":-0.011,"D7":-0.007,"D11":-0.003},
{"x":269,"D5":-0.033,"D6":-0.013,"D7":-0.007,"D11":-0.003},{"x":272,"D5":-0.008,"D6":-0.002,"D7":-0.002,"D11":-0.003},{"x":274,"D5":0.014,"D6":0.008,"D7":0.003,"D11":-0.003},{"x":276,"D5":0.024,"D6":0.013,"D7":0.006,"D11":-0.003},{"x":278,"D5":0.031,"D6":0.015,"D7":0.007,"D11":-0.003},{"x":280,"D5":0.018,"D6":0.011,"D7":0.0065,"D11":-0.002},{"x":282,"D5":0.012,"D6":0.009,"D7":0.006,"D11":-0.001},{"x":285,"D5":0.01,"D6":0.0085,"D7":0.0055,"D11":0},{"x":288,"D5":0.009,"D6":0.0075,"D7":0.0055,"D11":0.001},{"x":291,"D5":0.0085,"D6":0.007,"D7":0.005,"D11":0.002},{"x":294,"D5":0.007,"D6":0.005,"D7":0.004,"D11":0.003},{"x":297,"D5":0.005,"D6":0.003,"D7":0.003,"D11":0.003},{"x":300,"D5":0.002,"D6":0,"D7":0,"D11":0.003},{"x":303,"D5":-0.001,"D6":-0.003,"D7":-0.003,"D11":0.002},{"x":306,"D5":-0.008,"D6":-0.008,"D7":-0.006,"D11":0.002},{"x":309,"D5":-0.017,"D6":-0.013,"D7":-0.009,"D11":0.001},{"x":312,"D5":-0.027,"D6":-0.018,"D7":-0.012,"D11":-0.002},
{"x":314,"D5":-0.037,"D6":-0.02,"D7":-0.0125,"D11":-0.003},{"x":317,"D5":-0.008,"D6":-0.005,"D7":-0.006,"D11":-0.0045},{"x":319,"D5":0.012,"D6":0.006,"D7":0,"D11":-0.0055},{"x":321,"D5":0.022,"D6":0.01,"D7":0.002,"D11":-0.006},{"x":323,"D5":0.027,"D6":0.011,"D7":0.002,"D11":-0.0065},{"x":325,"D5":0.01,"D6":0.005,"D7":0.001,"D11":-0.007},{"x":327,"D5":0.005,"D6":0.003,"D7":0.001,"D11":-0.0075},{"x":330,"D5":0.0075,"D6":0.005,"D7":0.002,"D11":-0.007},{"x":333,"D5":0.0085,"D6":0.006,"D7":0.003,"D11":-0.005},{"x":336,"D5":0.0085,"D6":0.007,"D7":0.004,"D11":-0.003},{"x":339,"D5":0.007,"D6":0.006,"D7":0.005,"D11":-0.001},{"x":342,"D5":0.005,"D6":0.004,"D7":0.004,"D11":0},{"x":345,"D5":0.002,"D6":0.001,"D7":0.002,"D11":0.001},{"x":348,"D5":-0.001,"D6":-0.002,"D7":-0.001,"D11":0.002},{"x":351,"D5":-0.006,"D6":-0.006,"D7":-0.004,"D11":0.003},{"x":354,"D5":-0.014,"D6":-0.01,"D7":-0.006,"D11":0.003},{"x":357,"D5":-0.024,"D6":-0.015,"D7":-0.0085,"D11":0.003},{"x":360,"D5":-0.037,"D6":-0.02,"D7":-0.0095,"D11":0.003}
],
"d": [
{"x":0,"D5":-0.023,"D6":-0.009,"D7":-0.001,"D11":-0.002},{"x":2,"D5":-0.005,"D6":-0.002,"D7":-0.001,"D11":-0.003},{"x":4,"D5":0.01,"D6":0.005,"D7":0,"D11":-0.0025},{"x":6,"D5":0.02,"D6":0.009,"D7":0.001,"D11":-0.002},{"x":8,"D5":0.0254,"D6":0.0085,"D7":0.0015,"D11":-0.001},{"x":10,"D5":0.012,"D6":0.005,"D7":0.001,"D11":-0.0005},{"x":12,"D5":0.006,"D6":0.003,"D7":0,"D11":0},{"x":15,"D5":0.0048,"D6":0.002,"D7":0.001,"D11":0.001},{"x":18,"D5":0.006,"D6":0.003,"D7":0.002,"D11":0.002},{"x":21,"D5":0.008,"D6":0.004,"D7":0.0015,"D11":0.003},{"x":24,"D5":0.0075,"D6":0.0035,"D7":0.002,"D11":0.0025},{"x":27,"D5":0.004,"D6":0.001,"D7":0.003,"D11":0.003},{"x":30,"D5":-0.0005,"D6":-0.001,"D7":0.002,"D11":0.0035},{"x":33,"D5":-0.007,"D6":-0.004,"D7":0.004,"D11":0.004},{"x":36,"D5":-0.014,"D6":-0.006,"D7":0.005,"D11":0.003},{"x":39,"D5":-0.021,"D6":-0.008,"D7":0.002,"D11":0.001},{"x":42,"D5":-0.027,"D6":-0.0095,"D7":0,"D11":-0.001},
{"x":44,"D5":-0.029,"D6":-0.0095,"D7":-0.001,"D11":-0.002},{"x":47,"D5":-0.01,"D6":-0.002,"D7":0,"D11":-0.002},{"x":49,"D5":0.012,"D6":0.005,"D7":0.001,"D11":-0.0015},{"x":51,"D5":0.023,"D6":0.0095,"D7":0.002,"D11":-0.001},{"x":53,"D5":0.027,"D6":0.0105,"D7":0.0025,"D11":-0.0015},{"x":55,"D5":0.009,"D6":0.006,"D7":0.002,"D11":-0.002},{"x":57,"D5":0.006,"D6":0.0035,"D7":0.0015,"D11":-0.0025},{"x":60,"D5":0.0048,"D6":0.002,"D7":0.002,"D11":-0.003},{"x":63,"D5":0.0055,"D6":0.0015,"D7":0.001,"D11":-0.0025},{"x":66,"D5":0.0045,"D6":0.001,"D7":0,"D11":-0.002},{"x":69,"D5":0.0035,"D6":0.0015,"D7":0.001,"D11":-0.0015},{"x":72,"D5":0.003,"D6":0.002,"D7":0.0025,"D11":-0.001},{"x":75,"D5":0.002,"D6":0.001,"D7":0.003,"D11":-0.001},{"x":78,"D5":-0.0005,"D6":-0.001,"D7":0.002,"D11":-0.0015},{"x":81,"D5":-0.006,"D6":-0.003,"D7":0.001,"D11":-0.002},{"x":84,"D5":-0.013,"D6":-0.0055,"D7":0.002,"D11":-0.0025},{"x":87,"D5":-0.022,"D6":-0.0075,"D7":0.001,"D11":-0.003},
{"x":89,"D5":-0.028,"D6":-0.0082,"D7":0.001,"D11":-0.003},{"x":92,"D5":-0.009,"D6":-0.001,"D7":0.002,"D11":-0.001},{"x":94,"D5":0.01,"D6":0.007,"D7":0.004,"D11":0.001},{"x":96,"D5":0.025,"D6":0.0125,"D7":0.0065,"D11":0.002},{"x":98,"D5":0.0305,"D6":0.014,"D7":0.0065,"D11":0.003},{"x":100,"D5":0.017,"D6":0.009,"D7":0.0055,"D11":0.0025},{"x":102,"D5":0.0105,"D6":0.0065,"D7":0.005,"D11":0.002},{"x":105,"D5":0.009,"D6":0.006,"D7":0.005,"D11":0.001},{"x":108,"D5":0.0085,"D6":0.0052,"D7":0.0045,"D11":0},{"x":111,"D5":0.007,"D6":0.0048,"D7":0.004,"D11":0},{"x":114,"D5":0.005,"D6":0.004,"D7":0.0035,"D11":-0.0005},{"x":117,"D5":0.0035,"D6":0.0032,"D7":0.003,"D11":-0.001},{"x":120,"D5":0.003,"D6":0.0025,"D7":0.002,"D11":-0.001},{"x":123,"D5":0.0005,"D6":0,"D7":0.001,"D11":-0.0015},{"x":126,"D5":-0.005,"D6":-0.003,"D7":0.0005,"D11":-0.002},{"x":129,"D5":-0.012,"D6":-0.0065,"D7":0,"D11":-0.003},{"x":132,"D5":-0.022,"D6":-0.0095,"D7":-0.0015,"D11":-0.003},
{"x":134,"D5":-0.0305,"D6":-0.011,"D7":-0.002,"D11":-0.0025},{"x":137,"D5":-0.01,"D6":-0.004,"D7":-0.001,"D11":-0.001},{"x":139,"D5":0.008,"D6":0.004,"D7":0.001,"D11":0},{"x":141,"D5":0.024,"D6":0.011,"D7":0.003,"D11":0.0005},{"x":143,"D5":0.03,"D6":0.0134,"D7":0.0055,"D11":0.001},{"x":145,"D5":0.014,"D6":0.011,"D7":0.0058,"D11":0.0015},{"x":147,"D5":0.0115,"D6":0.0096,"D7":0.0055,"D11":0.002},{"x":150,"D5":0.0105,"D6":0.009,"D7":0.005,"D11":0.002},{"x":153,"D5":0.0105,"D6":0.0082,"D7":0.0048,"D11":0.0025},{"x":156,"D5":0.0095,"D6":0.007,"D7":0.004,"D11":0.003},{"x":159,"D5":0.007,"D6":0.005,"D7":0.0035,"D11":0.003},{"x":162,"D5":0.005,"D6":0.0035,"D7":0.0025,"D11":0.0025},{"x":165,"D5":0.003,"D6":0.0015,"D7":0.0015,"D11":0.002},{"x":168,"D5":0.001,"D6":-0.001,"D7":0,"D11":0.001},{"x":171,"D5":-0.003,"D6":-0.0035,"D7":-0.001,"D11":0},{"x":174,"D5":-0.01,"D6":-0.007,"D7":-0.003,"D11":-0.001},{"x":177,"D5":-0.02,"D6":-0.0115,"D7":-0.005,"D11":-0.0025},
{"x":179,"D5":-0.0335,"D6":-0.0143,"D7":-0.0065,"D11":-0.003},{"x":182,"D5":-0.008,"D6":-0.005,"D7":-0.004,"D11":-0.003},{"x":184,"D5":0.008,"D6":0.003,"D7":-0.002,"D11":-0.0025},{"x":186,"D5":0.022,"D6":0.008,"D7":0,"D11":-0.002},{"x":188,"D5":0.026,"D6":0.0096,"D7":0.001,"D11":-0.002},{"x":190,"D5":0.014,"D6":0.0085,"D7":0.0015,"D11":-0.0015},{"x":192,"D5":0.011,"D6":0.008,"D7":0.002,"D11":-0.001},{"x":195,"D5":0.0096,"D6":0.0077,"D7":0.002,"D11":0},{"x":198,"D5":0.0105,"D6":0.007,"D7":0.002,"D11":0.001},{"x":201,"D5":0.0095,"D6":0.0065,"D7":0.0025,"D11":0.0015},{"x":204,"D5":0.0078,"D6":0.006,"D7":0.002,"D11":0.002},{"x":207,"D5":0.0055,"D6":0.0045,"D7":0.001,"D11":0.0025},{"x":210,"D5":0.0032,"D6":0.003,"D7":0.0005,"D11":0.003},{"x":213,"D5":0,"D6":0,"D7":-0.0005,"D11":0.002},{"x":216,"D5":-0.0035,"D6":-0.003,"D7":-0.0015,"D11":0},{"x":219,"D5":-0.011,"D6":-0.007,"D7":-0.003,"D11":-0.002},{"x":222,"D5":-0.022,"D6":-0.011,"D7":-0.0035,"D11":-0.0035},
{"x":224,"D5":-0.0325,"D6":-0.012,"D7":-0.004,"D11":-0.004},{"x":227,"D5":-0.012,"D6":-0.004,"D7":-0.003,"D11":-0.0035},{"x":229,"D5":0.006,"D6":0.003,"D7":-0.001,"D11":-0.003},{"x":231,"D5":0.02,"D6":0.008,"D7":0,"D11":-0.002},{"x":233,"D5":0.025,"D6":0.0096,"D7":0.001,"D11":-0.001},{"x":235,"D5":0.008,"D6":0.007,"D7":0.0005,"D11":-0.0005},{"x":237,"D5":0.0035,"D6":0.005,"D7":0,"D11":0},{"x":240,"D5":0.004,"D6":0.0045,"D7":0.0005,"D11":0},{"x":243,"D5":0.0048,"D6":0.004,"D7":0,"D11":0.0005},{"x":246,"D5":0.0055,"D6":0.0035,"D7":-0.0005,"D11":0},{"x":249,"D5":0.006,"D6":0.003,"D7":0,"D11":0},{"x":252,"D5":0.0045,"D6":0.001,"D7":-0.001,"D11":0.0005},{"x":255,"D5":0.0015,"D6":-0.001,"D7":-0.001,"D11":0},{"x":258,"D5":-0.002,"D6":-0.003,"D7":-0.0015,"D11":0},{"x":261,"D5":-0.006,"D6":-0.005,"D7":-0.002,"D11":-0.0005},{"x":264,"D5":-0.012,"D6":-0.0075,"D7":-0.0025,"D11":-0.001},{"x":267,"D5":-0.021,"D6":-0.01,"D7":-0.003,"D11":-0.001},
{"x":269,"D5":-0.0297,"D6":-0.0105,"D7":-0.003,"D11":-0.001},{"x":272,"D5":-0.01,"D6":-0.003,"D7":-0.001,"D11":0},{"x":274,"D5":0.008,"D6":0.004,"D7":0.0005,"D11":0.001},{"x":276,"D5":0.022,"D6":0.008,"D7":0.001,"D11":0.0015},{"x":278,"D5":0.0265,"D6":0.0096,"D7":0.0015,"D11":0.002},{"x":280,"D5":0.011,"D6":0.006,"D7":0.001,"D11":0.002},{"x":282,"D5":0.006,"D6":0.004,"D7":0.0005,"D11":0.0015},{"x":285,"D5":0.0045,"D6":0.003,"D7":0,"D11":0.001},{"x":288,"D5":0.0035,"D6":0.002,"D7":-0.0005,"D11":0.001},{"x":291,"D5":0.003,"D6":0.0015,"D7":0,"D11":0.0005},{"x":294,"D5":0.0015,"D6":0.001,"D7":0.0005,"D11":0},{"x":297,"D5":0,"D6":0,"D7":0,"D11":-0.0005},{"x":300,"D5":-0.003,"D6":-0.001,"D7":-0.0005,"D11":-0.001},{"x":303,"D5":-0.006,"D6":-0.003,"D7":-0.001,"D11":-0.002},{"x":306,"D5":-0.011,"D6":-0.005,"D7":-0.002,"D11":-0.003},{"x":309,"D5":-0.017,"D6":-0.008,"D7":-0.003,"D11":-0.004},{"x":312,"D5":-0.025,"D6":-0.0105,"D7":-0.0035,"D11":-0.004},
{"x":314,"D5":-0.031,"D6":-0.0105,"D7":-0.004,"D11":-0.003},{"x":317,"D5":-0.008,"D6":-0.002,"D7":-0.001,"D11":-0.001},{"x":319,"D5":0.01,"D6":0.006,"D7":0.001,"D11":0},{"x":321,"D5":0.024,"D6":0.011,"D7":0.0025,"D11":0.001},{"x":323,"D5":0.0275,"D6":0.012,"D7":0.003,"D11":0.001},{"x":325,"D5":0.011,"D6":0.008,"D7":0.0025,"D11":0.0005},{"x":327,"D5":0.0075,"D6":0.0065,"D7":0.002,"D11":0},{"x":330,"D5":0.007,"D6":0.005,"D7":0.0015,"D11":0},{"x":333,"D5":0.0055,"D6":0.004,"D7":0.001,"D11":0.0005},{"x":336,"D5":0.0045,"D6":0.0035,"D7":0.0005,"D11":0.001},{"x":339,"D5":0.0032,"D6":0.003,"D7":0,"D11":0.001},{"x":342,"D5":0.001,"D6":0.001,"D7":-0.001,"D11":0},{"x":345,"D5":-0.0015,"D6":-0.001,"D7":-0.002,"D11":-0.001},{"x":348,"D5":-0.007,"D6":-0.003,"D7":-0.003,"D11":-0.002},{"x":351,"D5":-0.012,"D6":-0.006,"D7":-0.004,"D11":-0.0025},{"x":354,"D5":-0.018,"D6":-0.009,"D7":-0.005,"D11":-0.003},{"x":357,"D5":-0.026,"D6":-0.012,"D7":-0.006,"D11":-0.003},{"x":360,"D5":-0.034,"D6":-0.0145,"D7":-0.0065,"D11":-0.003}
],
"e": [
{"x":0,"D6":-0.007,"D8":-0.0085,"D9":-0.0065},{"x":2,"D6":-0.0016,"D8":-0.002,"D9":-0.0015},{"x":4.5,"D6":0.0104,"D8":0.011,"D9":0.01},{"x":7,"D6":0.0164,"D8":0.0175,"D9":0.015},{"x":8.6,"D6":0.0167,"D8":0.0191,"D9":0.015},{"x":10,"D6":0.0135,"D8":0.0145,"D9":0.013},{"x":11.7,"D6":0.0092,"D8":0.0095,"D9":0.009},{"x":13.3,"D6":0.0038,"D8":0.004,"D9":0.004},{"x":16,"D6":0.0028,"D8":0.003,"D9":0.0028},{"x":18,"D6":0.002,"D8":0.0025,"D9":0.0018},{"x":21,"D6":0.0006,"D8":0.001,"D9":0.0005},{"x":23,"D6":0,"D8":0.0003,"D9":-0.0002},{"x":26,"D6":-0.0025,"D8":-0.0022,"D9":-0.0025},{"x":28.6,"D6":-0.0037,"D8":-0.0035,"D9":-0.0036},{"x":31,"D6":-0.0048,"D8":-0.0046,"D9":-0.0046},{"x":34,"D6":-0.006,"D8":-0.006,"D9":-0.0052},{"x":37,"D6":-0.0076,"D8":-0.0078,"D9":-0.0075},{"x":40,"D6":-0.01,"D8":-0.0105,"D9":-0.0098},{"x":42,"D6":-0.0118,"D8":-0.0125,"D9":-0.0115},{"x":44.2,"D6":-0.0138,"D8":-0.0168,"D9":-0.0132},{"x":46.7,"D6":-0.011,"D8":-0.012,"D9":-0.0105},{"x":48.9,"D6":0,"D8":0,"D9":0},{"x":51.2,"D6":0.0145,"D8":0.0155,"D9":0.0137},{"x":52.8,"D6":0.015,"D8":0.018,"D9":0.014},{"x":55.5,"D6":0.0095,"D8":0.01,"D9":0.009},{"x":57.8,"D6":0.0086,"D8":0.0088,"D9":0.0085},{"x":61,"D6":0.0098,"D8":0.0098,"D9":0.0095},{"x":65.7,"D6":0.0104,"D8":0.0105,"D9":0.0102},{"x":69,"D6":0.0104,"D8":0.0105,"D9":0.0102},{"x":73.7,"D6":0.008,"D8":0.0082,"D9":0.008},{"x":78.4,"D6":0.005,"D8":0.0052,"D9":0.005},{"x":81,"D6":0.0011,"D8":0.001,"D9":0.0012},{"x":84,"D6":-0.0055,"D8":-0.006,"D9":-0.0052},{"x":87,"D6":-0.0175,"D8":-0.019,"D9":-0.0165},{"x":89.4,"D6":-0.0204,"D8":-0.0222,"D9":-0.019},{"x":92,"D6":-0.0076,"D8":-0.009,"D9":-0.007},{"x":95,"D6":0.0047,"D8":0.0052,"D9":0.0045},{"x":97.4,"D6":0.0077,"D8":0.0104,"D9":0.0068},{"x":100,"D6":0.0029,"D8":0.003,"D9":0.0027},{"x":102.6,"D6":-0.0007,"D8":-0.0008,"D9":-0.0009},{"x":106.4,"D6":0.0029,"D8":0.0027,"D9":0.003},{"x":111,"D6":0.0047,"D8":0.0045,"D9":0.0048},{"x":117.4,"D6":0.0056,"D8":0.0054,"D9":0.0057},{"x":122,"D6":0.005,"D8":0.0048,"D9":0.0052},{"x":125.3,"D6":0.0029,"D8":0.0025,"D9":0.0032},{"x":128.5,"D6":-0.0019,"D8":-0.0024,"D9":-0.0016},{"x":131.6,"D6":-0.0079,"D8":-0.0092,"D9":-0.0074},{"x":134.2,"D6":-0.0097,"D8":-0.0127,"D9":-0.0092},{"x":137,"D6":-0.004,"D8":-0.005,"D9":-0.0035},{"x":140.2,"D6":0.006,"D8":0.0062,"D9":0.0057},{"x":141.8,"D6":0.0101,"D8":0.0128,"D9":0.0092},{"x":144.3,"D6":0.0029,"D8":0.003,"D9":0.0026},{"x":147.4,"D6":-0.003,"D8":-0.0028,"D9":-0.0033},{"x":152,"D6":-0.0019,"D8":-0.0017,"D9":-0.0021},{"x":158.5,"D6":0,"D8":0.0002,"D9":-0.0002},{"x":164.8,"D6":-0.0007,"D8":-0.0005,"D9":-0.0009},{"x":171,"D6":-0.0019,"D8":-0.0021,"D9":-0.0015},{"x":176,"D6":-0.0055,"D8":-0.006,"D9":-0.0052},{"x":179.2,"D6":-0.0105,"D8":-0.012,"D9":-0.0098},{"x":181.6,"D6":-0.0045,"D8":-0.005,"D9":-0.0045},{"x":184.8,"D6":0.0104,"D8":0.011,"D9":0.01},{"x":187.3,"D6":0.0164,"D8":0.0188,"D9":0.0146},{"x":189.5,"D6":0.0092,"D8":0.0098,"D9":0.009},{"x":192.7,"D6":0.0038,"D8":0.004,"D9":0.0036},{"x":197.5,"D6":0.002,"D8":0.0022,"D9":0.0018},{"x":202.2,"D6":0,"D8":0.0005,"D9":-0.0002},{"x":207,"D6":-0.0016,"D8":-0.0012,"D9":-0.0018},{"x":213.3,"D6":-0.0028,"D8":-0.003,"D9":-0.0024},{"x":218,"D6":-0.0052,"D8":-0.0055,"D9":-0.005},{"x":221.3,"D6":-0.0094,"D8":-0.0105,"D9":-0.009},{"x":223.5,"D6":-0.0112,"D8":-0.0148,"D9":-0.0105},{"x":226,"D6":-0.0045,"D8":-0.005,"D9":-0.0042},{"x":229.2,"D6":0.0104,"D8":0.011,"D9":0.0098},{"x":233,"D6":0.0164,"D8":0.0191,"D9":0.0146},{"x":235.5,"D6":0.0086,"D8":0.009,"D9":0.0082},{"x":238.7,"D6":0.0062,"D8":0.0065,"D9":0.006},{"x":241.9,"D6":0.005,"D8":0.0052,"D9":0.0048},{"x":246.7,"D6":0.0026,"D8":0.0028,"D9":0.0024},{"x":251.4,"D6":0.0002,"D8":0.0004,"D9":0},{"x":256.2,"D6":-0.0028,"D8":-0.0026,"D9":-0.003},{"x":261,"D6":-0.0064,"D8":-0.0066,"D9":-0.0062},{"x":265.7,"D6":-0.01,"D8":-0.0106,"D9":-0.0098},{"x":268.9,"D6":-0.0136,"D8":-0.0166,"D9":-0.013},{"x":272,"D6":-0.0045,"D8":-0.005,"D9":-0.0042},{"x":275.2,"D6":0.0134,"D8":0.014,"D9":0.0125},{"x":277.8,"D6":0.0152,"D8":0.0176,"D9":0.0135},{"x":280,"D6":0.008,"D8":0.0082,"D9":0.0078},{"x":283.2,"D6":0.0074,"D8":0.0076,"D9":0.0072},{"x":288,"D6":0.0071,"D8":0.0072,"D9":0.007},{"x":292.7,"D6":0.0056,"D8":0.0058,"D9":0.0054},{"x":297.5,"D6":0.0008,"D8":0.0008,"D9":0.0006},{"x":302.2,"D6":-0.004,"D8":-0.0042,"D9":-0.0038},{"x":307,"D6":-0.0088,"D8":-0.0092,"D9":-0.0085},{"x":311.7,"D6":-0.0166,"D8":-0.018,"D9":-0.016},{"x":314.3,"D6":-0.0184,"D8":-0.022,"D9":-0.0178},{"x":316.8,"D6":-0.0106,"D8":-0.012,"D9":-0.01},{"x":319.7,"D6":0.0074,"D8":0.0078,"D9":0.007},{"x":322.9,"D6":0.0098,"D8":0.0134,"D9":0.009},{"x":326,"D6":0.0056,"D8":0.006,"D9":0.0052},{"x":329.2,"D6":0.0038,"D8":0.004,"D9":0.0036},{"x":332.4,"D6":0.0056,"D8":0.0058,"D9":0.0055},{"x":337,"D6":0.0068,"D8":0.0068,"D9":0.0068},{"x":341.9,"D6":0.0062,"D8":0.0062,"D9":0.0062},{"x":346.7,"D6":0.0032,"D8":0.003,"D9":0.0032},{"x":351.4,"D6":-0.0016,"D8":-0.0018,"D9":-0.0014},{"x":356.2,"D6":-0.0106,"D8":-0.0115,"D9":-0.01},{"x":360,"D6":-0.0196,"D8":-0.0226,"D9":-0.019}
],
"f": [
{"x":0,"D6":-0.0126,"D8":-0.0135,"D9":-0.012},{"x":2.2,"D6":-0.0047,"D8":-0.005,"D9":-0.0045},{"x":4.5,"D6":0.0044,"D8":0.0048,"D9":0.004},{"x":7,"D6":0.0092,"D8":0.0105,"D9":0.0085},{"x":8.6,"D6":0.0086,"D8":0.0117,"D9":0.008},{"x":10.9,"D6":0.0056,"D8":0.006,"D9":0.0052},{"x":13.4,"D6":0.0008,"D8":0.0012,"D9":0.0005},{"x":16.6,"D6":0.0014,"D8":0.0016,"D9":0.001},{"x":19.8,"D6":0.0038,"D8":0.004,"D9":0.0036},{"x":23,"D6":0.0047,"D8":0.0048,"D9":0.0046},{"x":26.2,"D6":0.004,"D8":0.0042,"D9":0.0038},{"x":29.4,"D6":0.0032,"D8":0.0034,"D9":0.003},{"x":32.6,"D6":0.002,"D8":0.0018,"D9":0.003},{"x":35.8,"D6":0.0026,"D8":0.0022,"D9":0.004},{"x":39,"D6":-0.0029,"D8":-0.0032,"D9":-0.0025},{"x":42.2,"D6":-0.0077,"D8":-0.0085,"D9":-0.007},{"x":44.5,"D6":-0.0095,"D8":-0.0126,"D9":-0.0088},{"x":47,"D6":-0.0047,"D8":-0.0055,"D9":-0.0045},{"x":50.2,"D6":0.0056,"D8":0.006,"D9":0.0052},{"x":52.5,"D6":0.0104,"D8":0.0135,"D9":0.0095},{"x":55,"D6":0.0056,"D8":0.006,"D9":0.0052},{"x":58.2,"D6":0.0014,"D8":0.0016,"D9":0.0012},{"x":61.4,"D6":0.0008,"D8":0.001,"D9":0.0008},{"x":64.6,"D6":0.0017,"D8":0.0019,"D9":0.0015},{"x":67.8,"D6":0.002,"D8":0.0022,"D9":0.0018},{"x":71,"D6":0.001,"D8":0.0012,"D9":0.0008},{"x":74.2,"D6":0,"D8":0,"D9":0.0002},{"x":77.4,"D6":-0.001,"D8":-0.0012,"D9":-0.0005},{"x":80.6,"D6":0,"D8":-0.0005,"D9":0.0025},{"x":83.8,"D6":-0.004,"D8":-0.0045,"D9":-0.0035},{"x":87,"D6":-0.0077,"D8":-0.0108,"D9":-0.007},{"x":90.2,"D6":-0.0017,"D8":-0.002,"D9":-0.0015},{"x":93.4,"D6":0.0117,"D8":0.0125,"D9":0.011},{"x":95.7,"D6":0.0141,"D8":0.0165,"D9":0.0125},{"x":98.2,"D6":0.0092,"D8":0.0095,"D9":0.0088},{"x":101.4,"D6":0.0068,"D8":0.007,"D9":0.0065},{"x":104.6,"D6":0.0056,"D8":0.0058,"D9":0.0054},{"x":107.8,"D6":0.005,"D8":0.0052,"D9":0.0048},{"x":111,"D6":0.0032,"D8":0.0034,"D9":0.0032},{"x":114.2,"D6":0.0008,"D8":0.001,"D9":0.0008},{"x":117.4,"D6":-0.0005,"D8":-0.0004,"D9":-0.0002},{"x":120.6,"D6":-0.0023,"D8":-0.0025,"D9":-0.002},{"x":123.8,"D6":-0.004,"D8":-0.0042,"D9":-0.0035},{"x":127,"D6":-0.0059,"D8":-0.0062,"D9":-0.0055},{"x":130.2,"D6":-0.0077,"D8":-0.0082,"D9":-0.0072},{"x":132.8,"D6":-0.0101,"D8":-0.0132,"D9":-0.0095},{"x":135,"D6":-0.004,"D8":-0.0045,"D9":-0.0038},{"x":138.2,"D6":0.0074,"D8":0.0078,"D9":0.007},{"x":141.4,"D6":0.0117,"D8":0.0159,"D9":0.0105},{"x":144.6,"D6":0.0068,"D8":0.007,"D9":0.0065},{"x":147.8,"D6":0.0062,"D8":0.0064,"D9":0.006},{"x":152.6,"D6":0.0062,"D8":0.0064,"D9":0.0058},{"x":157.4,"D6":0.0056,"D8":0.0058,"D9":0.0054},{"x":162.2,"D6":0.0032,"D8":0.0034,"D9":0.003},{"x":167,"D6":0,"D8":0,"D9":0.0002},{"x":171.8,"D6":-0.004,"D8":-0.0042,"D9":-0.0036},{"x":175.7,"D6":-0.0077,"D8":-0.0082,"D9":-0.0072},{"x":178.2,"D6":-0.0132,"D8":-0.0168,"D9":-0.0125},{"x":181.4,"D6":-0.004,"D8":-0.0045,"D9":-0.0038},{"x":184.6,"D6":0.0086,"D8":0.009,"D9":0.008},{"x":187.2,"D6":0.0092,"D8":0.0123,"D9":0.0085},{"x":191,"D6":0.0044,"D8":0.0046,"D9":0.004},{"x":195.8,"D6":0.0056,"D8":0.0058,"D9":0.0054},{"x":200.6,"D6":0.0062,"D8":0.0064,"D9":0.006},{"x":203.8,"D6":0.0068,"D8":0.007,"D9":0.0066},{"x":208.6,"D6":0.0044,"D8":0.0046,"D9":0.0042},{"x":213.4,"D6":0.0014,"D8":0.0016,"D9":0.0012},{"x":218.2,"D6":-0.0029,"D8":-0.003,"D9":-0.0026},{"x":221.4,"D6":-0.0077,"D8":-0.0085,"D9":-0.0072},{"x":224,"D6":-0.0113,"D8":-0.0153,"D9":-0.0105},{"x":227.2,"D6":-0.0017,"D8":-0.002,"D9":-0.0015},{"x":230,"D6":0.0056,"D8":0.006,"D9":0.0052},{"x":232.6,"D6":0.008,"D8":0.011,"D9":0.0072},{"x":235.8,"D6":0.0008,"D8":0.001,"D9":0.0006},{"x":239,"D6":0,"D8":0.0002,"D9":0},{"x":243.8,"D6":0.002,"D8":0.0022,"D9":0.0018},{"x":248.6,"D6":0.0032,"D8":0.0034,"D9":0.003},{"x":253.4,"D6":0.002,"D8":0.0022,"D9":0.002},{"x":258.2,"D6":0.0008,"D8":0.0008,"D9":0.0012},{"x":261.4,"D6":-0.0035,"D8":-0.0038,"D9":-0.003},{"x":264.6,"D6":-0.0065,"D8":-0.007,"D9":-0.006},{"x":267.8,"D6":-0.0095,"D8":-0.0132,"D9":-0.009},{"x":271,"D6":-0.0017,"D8":-0.002,"D9":-0.0015},{"x":274.2,"D6":0.0086,"D8":0.009,"D9":0.008},{"x":276.8,"D6":0.0098,"D8":0.0129,"D9":0.009},{"x":280.6,"D6":0.002,"D8":0.0022,"D9":0.0018},{"x":283.8,"D6":0.0008,"D8":0.001,"D9":0.0008},{"x":288.6,"D6":0.0005,"D8":0.0006,"D9":0.0008},{"x":293.4,"D6":-0.0005,"D8":-0.0006,"D9":0},{"x":298.2,"D6":-0.0017,"D8":-0.0018,"D9":-0.0012},{"x":301.4,"D6":-0.0035,"D8":-0.0038,"D9":-0.003},{"x":304.6,"D6":-0.0053,"D8":-0.0058,"D9":-0.0048},{"x":309.4,"D6":-0.0077,"D8":-0.0085,"D9":-0.0072},{"x":312.6,"D6":-0.0108,"D8":-0.0138,"D9":-0.0102},{"x":315.8,"D6":-0.004,"D8":-0.0045,"D9":-0.0038},{"x":319,"D6":0.0074,"D8":0.0078,"D9":0.007},{"x":322.2,"D6":0.0104,"D8":0.0141,"D9":0.0095},{"x":325.4,"D6":0.0044,"D8":0.0046,"D9":0.0042},{"x":328.6,"D6":0.0032,"D8":0.0034,"D9":0.003},{"x":333.4,"D6":0.002,"D8":0.0022,"D9":0.0018},{"x":338.2,"D6":-0.0017,"D8":-0.0018,"D9":-0.0014},{"x":343,"D6":-0.004,"D8":-0.0042,"D9":-0.0036},{"x":347.8,"D6":-0.0059,"D8":-0.0062,"D9":-0.0055},{"x":352.6,"D6":-0.0077,"D8":-0.0082,"D9":-0.0072},{"x":355.8,"D6":-0.012,"D8":-0.0125,"D9":-0.0115},{"x":359,"D6":-0.0168,"D8":-0.0175,"D9":-0.016}
]
},
"vconcat": [
{
"hconcat": [
{"width": 1, "height": 1, "data": {"values": []}, "mark": {"type": "point"}, "encoding": {}, "view": {"stroke": null}},
{
"hconcat": [
{
"width": 377, "height": 278,
"title": {"text": "(a)", "dx": -65, "dy": 24},
"data": {"name": "a"},
"transform": [{"fold": ["D1", "D2", "D3", "D4"], "as": ["s", "v"]}, {"filter": "isValid(datum.v)"}],
"mark": {"type": "line", "strokeWidth": 1.2, "clip": true},
"encoding": {
"x": {"field": "x", "type": "quantitative", "scale": {"domain": [0, 360], "nice": false}, "axis": {"values": [0,30,60,90,120,150,180,210,240,270,300,330,360], "labelExpr": "datum.value % 60 === 0 ? datum.label : ''", "title": "Time Step"}},
"y": {"field": "v", "type": "quantitative", "scale": {"domain": [-0.1, 0.1], "nice": false, "zero": false}, "axis": {"values": [-0.1,-0.075,-0.05,-0.025,0,0.025,0.05,0.075,0.1], "format": ".2f", "labelExpr": "abs(datum.value*20 - round(datum.value*20)) < 0.001 ? datum.label : ''", "title": "Cₚ", "titlePadding": -2}},
"color": {"field": "s", "type": "nominal", "scale": {"domain": ["D1", "D2", "D3", "D4"], "range": ["#1e1e1e", "#e05a5a", "#3535c0", "#34a096"]}, "legend": {"title": null, "orient": "none", "legendX": 12, "legendY": -7, "direction": "horizontal", "columns": 4, "columnPadding": 26}}
}
},
{
"width": 375, "height": 278,
"title": {"text": "(b)", "dx": -76, "dy": 24},
"data": {"name": "b"},
"transform": [{"fold": ["D1", "D2", "D3", "D4"], "as": ["s", "v"]}, {"filter": "isValid(datum.v)"}],
"mark": {"type": "line", "strokeWidth": 1.2, "clip": true},
"encoding": {
"x": {"field": "x", "type": "quantitative", "scale": {"domain": [0, 360], "nice": false}, "axis": {"values": [0,30,60,90,120,150,180,210,240,270,300,330,360], "labelExpr": "datum.value % 60 === 0 ? datum.label : ''", "title": "Time Step"}},
"y": {"field": "v", "type": "quantitative", "scale": {"domain": [-0.1, 0.1], "nice": false, "zero": false}, "axis": {"values": [-0.1,-0.075,-0.05,-0.025,0,0.025,0.05,0.075,0.1], "format": ".2f", "labelExpr": "abs(datum.value*20 - round(datum.value*20)) < 0.001 ? datum.label : ''", "title": "Cₚ", "titlePadding": 7}},
"color": {"field": "s", "type": "nominal", "scale": {"domain": ["D1", "D2", "D3", "D4"], "range": ["#1e1e1e", "#e05a5a", "#3535c0", "#34a096"]}, "legend": {"title": null, "orient": "none", "legendX": 10, "legendY": -8, "direction": "horizontal", "columns": 4, "columnPadding": 26}}
}
}
],
"spacing": 16,
"resolve": {"scale": {"x": "independent", "y": "independent", "color": "independent"}, "legend": {"color": "independent"}}
}
],
"spacing": 0,
"resolve": {"scale": {"x": "independent", "y": "independent", "color": "independent"}, "legend": {"color": "independent"}}
},
{
"vconcat": [
{
"hconcat": [
{"width": 1, "height": 1, "data": {"values": []}, "mark": {"type": "point"}, "encoding": {}, "view": {"stroke": null}},
{
"hconcat": [
{
"width": 374, "height": 279,
"title": {"text": "(c)", "dx": -65, "dy": -1.5},
"data": {"name": "c"},
"transform": [{"fold": ["D5", "D6", "D7", "D11"], "as": ["s", "v"]}, {"filter": "isValid(datum.v)"}],
"mark": {"type": "line", "strokeWidth": 1.2, "clip": true},
"encoding": {
"x": {"field": "x", "type": "quantitative", "scale": {"domain": [0, 360], "nice": false}, "axis": {"values": [0,30,60,90,120,150,180,210,240,270,300,330,360], "labelExpr": "datum.value % 60 === 0 ? datum.label : ''", "title": "Time Step"}},
"y": {"field": "v", "type": "quantitative", "scale": {"domain": [-0.04, 0.04], "nice": false, "zero": false}, "axis": {"values": [-0.04,-0.03,-0.02,-0.01,0,0.01,0.02,0.03,0.04], "format": ".2f", "labelExpr": "abs(datum.value*50 - round(datum.value*50)) < 0.001 ? datum.label : ''", "title": "Cₚ", "titlePadding": -2}},
"color": {"field": "s", "type": "nominal", "scale": {"domain": ["D5", "D6", "D7", "D11"], "range": ["#1e1e1e", "#d42c2c", "#3a3ad6", "#3a9a80"]}, "legend": {"title": null, "orient": "none", "legendX": 11, "legendY": -5, "direction": "horizontal", "columns": 4, "columnPadding": 26}}
}
},
{
"width": 376, "height": 279,
"title": {"text": "(d)", "dx": -76, "dy": -1.5},
"data": {"name": "d"},
"transform": [{"fold": ["D5", "D6", "D7", "D11"], "as": ["s", "v"]}, {"filter": "isValid(datum.v)"}],
"mark": {"type": "line", "strokeWidth": 1.2, "clip": true},
"encoding": {
"x": {"field": "x", "type": "quantitative", "scale": {"domain": [0, 360], "nice": false}, "axis": {"values": [0,30,60,90,120,150,180,210,240,270,300,330,360], "labelExpr": "datum.value % 60 === 0 ? datum.label : ''", "title": "Time Step"}},
"y": {"field": "v", "type": "quantitative", "scale": {"domain": [-0.04, 0.04], "nice": false, "zero": false}, "axis": {"values": [-0.04,-0.03,-0.02,-0.01,0,0.01,0.02,0.03,0.04], "format": ".2f", "labelExpr": "abs(datum.value*50 - round(datum.value*50)) < 0.001 ? datum.label : ''", "title": "Cₚ", "titlePadding": 5}},
"color": {"field": "s", "type": "nominal", "scale": {"domain": ["D5", "D6", "D7", "D11"], "range": ["#1e1e1e", "#d42c2c", "#3a3ad6", "#3a9a80"]}, "legend": {"title": null, "orient": "none", "legendX": 12, "legendY": -5, "direction": "horizontal", "columns": 4, "columnPadding": 26}}
}
}
],
"spacing": 19,
"resolve": {"scale": {"x": "independent", "y": "independent", "color": "independent"}, "legend": {"color": "independent"}}
}
],
"spacing": 0,
"resolve": {"scale": {"x": "independent", "y": "independent", "color": "independent"}, "legend": {"color": "independent"}}
},
{
"hconcat": [
{"width": 1, "height": 1, "data": {"values": []}, "mark": {"type": "point"}, "encoding": {}, "view": {"stroke": null}},
{
"hconcat": [
{
"width": 380, "height": 278,
"title": {"text": "(e)", "dx": -78, "dy": 5.5},
"data": {"name": "e"},
"transform": [{"fold": ["D6", "D8", "D9"], "as": ["s", "v"]}, {"filter": "isValid(datum.v)"}],
"mark": {"type": "line", "strokeWidth": 1.3, "clip": true},
"encoding": {
"x": {"field": "x", "type": "quantitative", "scale": {"domain": [0, 360], "nice": false}, "axis": {"values": [0,30,60,90,120,150,180,210,240,270,300,330,360], "labelExpr": "datum.value % 60 === 0 ? datum.label : ''", "title": "Time Step"}},
"y": {"field": "v", "type": "quantitative", "scale": {"domain": [-0.025, 0.025], "nice": false, "zero": false}, "axis": {"values": [-0.025,-0.01875,-0.0125,-0.00625,0,0.00625,0.0125,0.01875,0.025], "format": ".4f", "labelExpr": "abs(datum.value*80 - round(datum.value*80)) < 0.001 ? datum.label : ''", "title": "Cₚ", "titlePadding": 5}},
"color": {"field": "s", "type": "nominal", "scale": {"domain": ["D6", "D8", "D9"], "range": ["#1e1e1e", "#e06060", "#3a3ad0"]}, "legend": {"title": null, "orient": "none", "legendX": 22, "legendY": 4.5, "direction": "horizontal", "columns": 3, "columnPadding": 62, "symbolSize": 1225}}
}
},
{
"width": 375, "height": 278,
"title": {"text": "(f)", "dx": -90, "dy": 5.5},
"data": {"name": "f"},
"transform": [{"fold": ["D6", "D8", "D9"], "as": ["s", "v"]}, {"filter": "isValid(datum.v)"}],
"mark": {"type": "line", "strokeWidth": 1.3, "clip": true},
"encoding": {
"x": {"field": "x", "type": "quantitative", "scale": {"domain": [0, 360], "nice": false}, "axis": {"values": [0,30,60,90,120,150,180,210,240,270,300,330,360], "labelExpr": "datum.value % 60 === 0 ? datum.label : ''", "title": "Time Step"}},
"y": {"field": "v", "type": "quantitative", "scale": {"domain": [-0.025, 0.025], "nice": false, "zero": false}, "axis": {"values": [-0.025,-0.01875,-0.0125,-0.00625,0,0.00625,0.0125,0.01875,0.025], "format": ".4f", "labelExpr": "abs(datum.value*80 - round(datum.value*80)) < 0.001 ? datum.label : ''", "title": "Cₚ", "titlePadding": 6}},
"color": {"field": "s", "type": "nominal", "scale": {"domain": ["D6", "D8", "D9"], "range": ["#1e1e1e", "#e06060", "#3a3ad0"]}, "legend": {"title": null, "orient": "none", "legendX": 20, "legendY": 4.5, "direction": "horizontal", "columns": 3, "columnPadding": 62, "symbolSize": 1225}}
}
}
],
"spacing": 0,
"resolve": {"scale": {"x": "independent", "y": "independent", "color": "independent"}, "legend": {"color": "independent"}}
}
],
"spacing": 0,
"resolve": {"scale": {"x": "independent", "y": "independent", "color": "independent"}, "legend": {"color": "independent"}}
}
],
"spacing": 30,
"resolve": {"scale": {"x": "independent", "y": "independent", "color": "independent"}, "legend": {"color": "independent"}}
}
],
"spacing": 19,
"resolve": {"scale": {"x": "independent", "y": "independent", "color": "independent"}, "legend": {"color": "independent"}},
"config": {
"font": "Liberation Serif",
"view": {"stroke": "#3a3a3a", "strokeWidth": 1.5},
"axis": {"labelFont": "Liberation Serif", "labelFontSize": 15, "labelColor": "#111111", "titleFont": "Liberation Serif", "titleFontSize": 17, "titleFontWeight": "normal", "titleColor": "#111111", "grid": true, "gridColor": "#222222", "gridDash": [1.5, 3], "gridWidth": 1, "gridOpacity": 0.75, "ticks": false, "domain": false, "labelPadding": 6, "labelOverlap": false},
"axisX": {"titlePadding": 2, "labelFlush": false, "labelPadding": 4},
"axisY": {"titleFontStyle": "italic", "titleFontSize": 18},
"legend": {"labelFont": "Liberation Serif", "labelFontSize": 16, "labelColor": "#111111", "symbolType": "stroke", "symbolSize": 1600, "symbolStrokeWidth": 1.5, "padding": 0, "labelOffset": 3},
"title": {"font": "Liberation Serif", "fontSize": 24, "fontWeight": "normal", "anchor": "start", "frame": "group", "color": "#111111", "baseline": "bottom", "offset": 0},
"locale": {"number": {"decimal": ".", "thousands": ",", "grouping": [3], "currency": ["$", ""], "minus": "-"}}
}
}
